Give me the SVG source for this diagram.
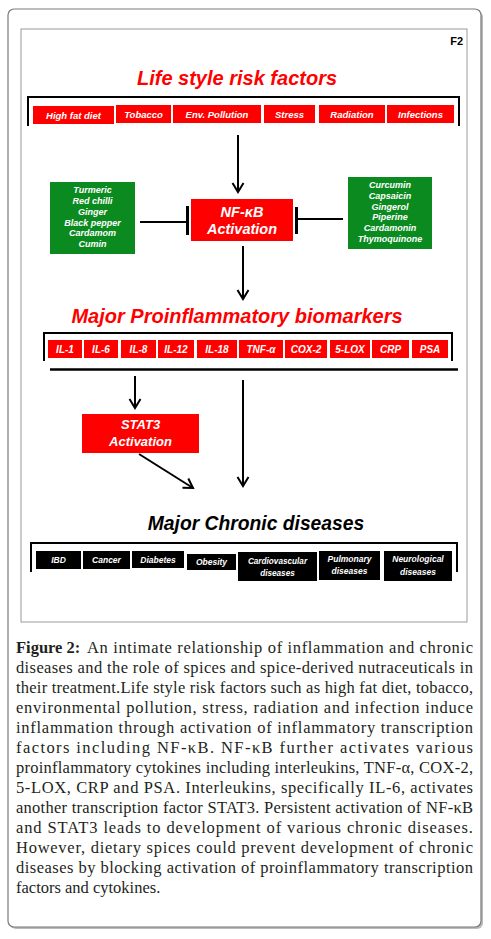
<svg xmlns="http://www.w3.org/2000/svg" width="491" height="939" viewBox="0 0 491 939">
<style>
.h{font-family:"Liberation Sans",Arial,sans-serif;font-weight:bold;font-style:italic;text-anchor:middle}
.rb{fill:#ff0000}
.wt{font-family:"Liberation Sans",Arial,sans-serif;font-weight:bold;font-style:italic;fill:#fff;text-anchor:middle}
.gb{fill:#0b8a20}
.kb{fill:#000}
.ln{stroke:#000;stroke-width:2;fill:none}
.br{stroke:#000;stroke-width:2;fill:none}
.cap{font-family:"Liberation Serif","Times New Roman",serif;font-size:16.5px;fill:#231f20}
</style>
<defs>
<marker id="arr" markerUnits="userSpaceOnUse" markerWidth="14" markerHeight="14" viewBox="0 0 14 14" refX="11" refY="7" orient="auto">
<path d="M2,1.5 L11,7 L2,12.5" fill="none" stroke="#000" stroke-width="2"/>
</marker>
</defs>
<rect width="491" height="939" fill="#fff"/>
<rect x="10" y="11" width="473" height="918" rx="6" fill="#bbb"/>
<rect x="8" y="9" width="473" height="918" rx="6" fill="#fff" stroke="#7a7a7a" stroke-width="1.2"/>
<rect x="21" y="29" width="446" height="593" fill="#fff" stroke="#9a9a9a" stroke-width="1"/>
<text x="463" y="45" font-family="Liberation Sans,Arial,sans-serif" font-weight="bold" font-size="11" text-anchor="end">F2</text>

<g id="title-risk"><text class="h" x="237" y="85" font-size="20" fill="#ff0000">Life style risk factors</text></g>
<g id="risk-factors">
<path class="br" d="M28,126 V97 H459 V126"/>
<rect class="rb" x="33" y="106" width="81" height="18"/><text class="wt" x="73.5" y="118.5" font-size="9.5">High fat diet</text>
<rect class="rb" x="116" y="105" width="55" height="18"/><text class="wt" x="143.5" y="117.5" font-size="9.5">Tobacco</text>
<rect class="rb" x="173" y="105" width="88" height="18"/><text class="wt" x="217" y="117.5" font-size="9.5">Env. Pollution</text>
<rect class="rb" x="264" y="105" width="51" height="18"/><text class="wt" x="289.5" y="117.5" font-size="9.5">Stress</text>
<rect class="rb" x="319" y="105" width="66" height="18"/><text class="wt" x="352" y="117.5" font-size="9.5">Radiation</text>
<rect class="rb" x="387" y="105" width="67" height="18"/><text class="wt" x="420.5" y="117.5" font-size="9.5">Infections</text>
</g>

<g id="nfkb">
<rect class="rb" x="191" y="199" width="102" height="42"/>
<text class="wt" x="242" y="217" font-size="14.5">NF-κB</text>
<text class="wt" x="242" y="234" font-size="14.5">Activation</text>
</g>

<g id="spices-left">
<rect class="gb" x="50" y="182" width="85" height="72"/>
<text class="wt" font-size="9">
<tspan x="92.5" y="193">Turmeric</tspan><tspan x="92.5" y="204">Red chilli</tspan><tspan x="92.5" y="215">Ginger</tspan><tspan x="92.5" y="225.5">Black pepper</tspan><tspan x="92.5" y="236">Cardamom</tspan><tspan x="92.5" y="247">Cumin</tspan>
</text>
</g>
<g id="spices-right">
<rect class="gb" x="348" y="177" width="84" height="72"/>
<text class="wt" font-size="9">
<tspan x="390" y="188">Curcumin</tspan><tspan x="390" y="199">Capsaicin</tspan><tspan x="390" y="210">Gingerol</tspan><tspan x="390" y="220">Piperine</tspan><tspan x="390" y="231">Cardamonin</tspan><tspan x="390" y="242">Thymoquinone</tspan>
</text>
</g>

<g id="title-bio"><text class="h" x="237" y="323" font-size="20" fill="#ff0000">Major Proinflammatory biomarkers</text></g>
<g id="biomarkers">
<path class="br" d="M44,361 V333 H452 V361"/>
<rect class="rb" x="48" y="340" width="34" height="18"/><text class="wt" x="65" y="352.5" font-size="10">IL-1</text>
<rect class="rb" x="84" y="340" width="34" height="18"/><text class="wt" x="101" y="352.5" font-size="10">IL-6</text>
<rect class="rb" x="121" y="340" width="35" height="18"/><text class="wt" x="138.5" y="352.5" font-size="10">IL-8</text>
<rect class="rb" x="158" y="340" width="36" height="18"/><text class="wt" x="176" y="352.5" font-size="10">IL-12</text>
<rect class="rb" x="197" y="340" width="40" height="18"/><text class="wt" x="217" y="352.5" font-size="10">IL-18</text>
<rect class="rb" x="239" y="340" width="44" height="18"/><text class="wt" x="261" y="352.5" font-size="10">TNF-α</text>
<rect class="rb" x="285" y="340" width="42" height="18"/><text class="wt" x="306" y="352.5" font-size="10">COX-2</text>
<rect class="rb" x="330" y="340" width="40" height="18"/><text class="wt" x="350" y="352.5" font-size="10">5-LOX</text>
<rect class="rb" x="372" y="340" width="37" height="18"/><text class="wt" x="390.5" y="352.5" font-size="10">CRP</text>
<rect class="rb" x="412" y="340" width="36" height="18"/><text class="wt" x="430" y="352.5" font-size="10">PSA</text>
</g>

<g id="stat3">
<rect class="rb" x="82" y="414" width="117" height="39"/>
<text class="wt" x="140.5" y="429" font-size="13">STAT3</text>
<text class="wt" x="140.5" y="445.5" font-size="13">Activation</text>
</g>

<g id="title-chronic"><text class="h" x="256" y="530" font-size="19.3" fill="#000">Major Chronic diseases</text></g>
<g id="diseases">
<path class="br" d="M31,572 V543 H457 V572"/>
<rect class="kb" x="36" y="551" width="45" height="18"/><text class="wt" x="58.5" y="563" font-size="8.5">IBD</text>
<rect class="kb" x="83" y="551" width="47" height="18"/><text class="wt" x="106.5" y="563" font-size="8.5">Cancer</text>
<rect class="kb" x="132" y="551" width="52" height="17"/><text class="wt" x="158" y="562.5" font-size="8.5">Diabetes</text>
<rect class="kb" x="187" y="554" width="49" height="16"/><text class="wt" x="211.5" y="565" font-size="8.5">Obesity</text>
<rect class="kb" x="238" y="552" width="79" height="29"/><text class="wt" font-size="8.2"><tspan x="277.5" y="563.5">Cardiovascular</tspan><tspan x="277.5" y="575.5">diseases</tspan></text>
<rect class="kb" x="319" y="551" width="61" height="29"/><text class="wt" font-size="8.5"><tspan x="349.5" y="562">Pulmonary</tspan><tspan x="349.5" y="574">diseases</tspan></text>
<rect class="kb" x="384" y="551" width="68" height="30"/><text class="wt" font-size="8.5"><tspan x="418" y="562">Neurological</tspan><tspan x="418" y="574.5">diseases</tspan></text>
</g>

<g id="connectors">
<line class="ln" x1="238" y1="135" x2="238" y2="192" marker-end="url(#arr)"/>
<line class="ln" x1="243" y1="246" x2="243" y2="299" marker-end="url(#arr)"/>
<line class="ln" x1="140" y1="222" x2="187" y2="222"/>
<line x1="187.5" y1="206" x2="187.5" y2="235" stroke="#000" stroke-width="3"/>
<line class="ln" x1="297" y1="219" x2="343" y2="219"/>
<line x1="296.5" y1="207" x2="296.5" y2="234" stroke="#000" stroke-width="3"/>
<line x1="50" y1="369.5" x2="458" y2="369.5" stroke="#000" stroke-width="2.5"/>
<line class="ln" x1="135" y1="376" x2="135" y2="408" marker-end="url(#arr)"/>
<line class="ln" x1="243" y1="380" x2="243" y2="486" marker-end="url(#arr)"/>
<line class="ln" x1="139" y1="454" x2="193" y2="488" marker-end="url(#arr)"/>
</g>

<g id="caption">
<text class="cap" x="16" y="653" font-weight="bold">Figure 2:</text>
<text class="cap" x="87" y="653" textLength="386" lengthAdjust="spacing">An intimate relationship of inflammation and chronic</text>
<text class="cap" x="16" y="673" textLength="457" lengthAdjust="spacing">diseases and the role of spices and spice-derived nutraceuticals in</text>
<text class="cap" x="16" y="693" textLength="457" lengthAdjust="spacing">their treatment.Life style risk factors such as high fat diet, tobacco,</text>
<text class="cap" x="16" y="713" textLength="457" lengthAdjust="spacing">environmental pollution, stress, radiation and infection induce</text>
<text class="cap" x="16" y="733" textLength="457" lengthAdjust="spacing">inflammation through activation of inflammatory transcription</text>
<text class="cap" x="16" y="753" textLength="457" lengthAdjust="spacing">factors including NF-κB. NF-κB further activates various</text>
<text class="cap" x="16" y="773" textLength="457" lengthAdjust="spacing">proinflammatory cytokines including interleukins, TNF-α, COX-2,</text>
<text class="cap" x="16" y="793" textLength="457" lengthAdjust="spacing">5-LOX, CRP and PSA. Interleukins, specifically IL-6, activates</text>
<text class="cap" x="16" y="813" textLength="457" lengthAdjust="spacing">another transcription factor STAT3. Persistent activation of NF-κB</text>
<text class="cap" x="16" y="833" textLength="457" lengthAdjust="spacing">and STAT3 leads to development of various chronic diseases.</text>
<text class="cap" x="16" y="853" textLength="457" lengthAdjust="spacing">However, dietary spices could prevent development of chronic</text>
<text class="cap" x="16" y="873" textLength="457" lengthAdjust="spacing">diseases by blocking activation of proinflammatory transcription</text>
<text class="cap" x="16" y="893">factors and cytokines.</text>
</g>
</svg>
